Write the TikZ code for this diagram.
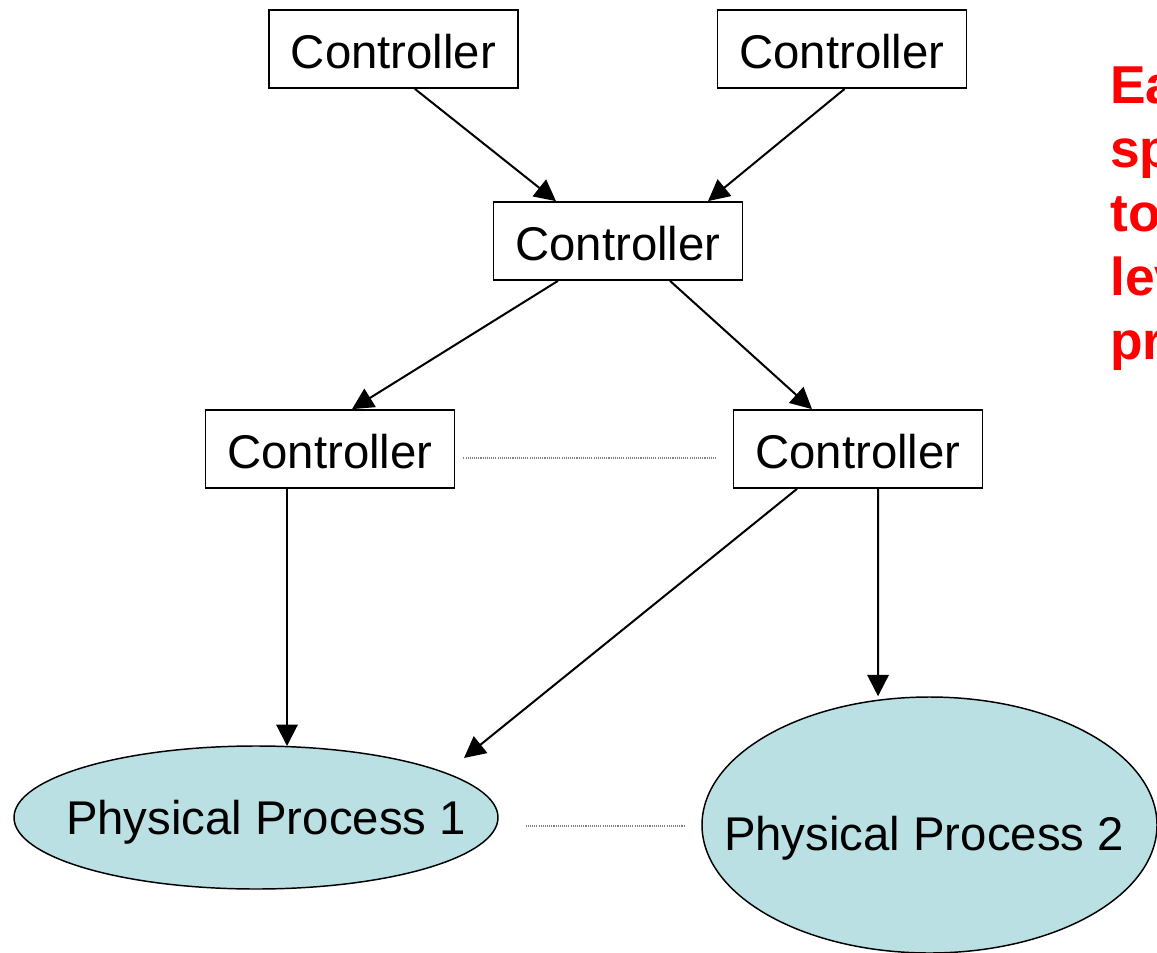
\documentclass[tikz,border=0pt]{standalone}
\usepackage{fontspec}
\setmainfont{Liberation Sans}
\usetikzlibrary{shapes.geometric,arrows.meta,calc}
\definecolor{procfill}{RGB}{186,224,228}
\definecolor{notered}{RGB}{255,0,0}
\begin{document}
\begin{tikzpicture}[x=0.75pt,y=-0.75pt,
  ctrl/.style={draw=black,line width=1.3pt,fill=white,minimum width=186.75pt,
    minimum height=58.5pt,inner sep=0pt,text height=29pt,text depth=0pt,
    font=\fontsize{35.5}{42}\selectfont},
  proc/.style={draw=black,line width=1.1pt,fill=procfill,ellipse,inner sep=0pt},
  lbl/.style={font=\fontsize{35.5}{42}\selectfont,inner sep=0pt},
  arr/.style={line width=1.5pt,-{Triangle[length=16pt,width=16pt]}},
  peer/.style={draw=gray,line width=0.8pt,dash pattern=on 0.8pt off 0.8pt},
  note/.style={anchor=base west,inner sep=0pt,text=notered,font=\fontsize{40}{48}\selectfont\bfseries}]
\clip (0,0) rectangle (1157,953);
\fill[white] (0,0) rectangle (1157,953);

% controller hierarchy
\node[ctrl] (c1) at (393.5,49) {Controller};
\node[ctrl] (c2) at (842,49) {Controller};
\node[ctrl] (c3) at (618,241) {Controller};
\node[ctrl] (c4) at (330,449) {Controller};
\node[ctrl] (c5) at (858,449) {Controller};

% physical processes
\node[proc,minimum width=363pt,minimum height=107.25pt] (e1) at (256,817.5) {};
\node[lbl] (e1t) at (266,822.5) {Physical Process 1};
\node[proc,minimum width=341.25pt,minimum height=192pt] (e2) at (929.5,825) {};
\node[lbl] (e2t) at (924,838.5) {Physical Process 2};

% command flow
\draw[arr] ([xshift=16pt]c1.south) -- ([xshift=-46.5pt]c3.north);
\draw[arr] ([xshift=2pt]c2.south) -- ([xshift=67.5pt]c3.north);
\draw[arr] ([xshift=-45pt]c3.south) -- ([xshift=16.5pt]c4.north);
\draw[arr] ([xshift=39pt]c3.south) -- ([xshift=-34.5pt]c5.north);
\draw[arr] ([xshift=-32.25pt]c4.south) -- ($(e1.center)+(31,-71.5)$);
\draw[arr] ([xshift=-45.75pt]c5.south) -- ($(e1.center)+(208,-59.5)$);
\draw[arr] ([xshift=15pt]c5.south) -- ([xshift=-38.6pt]e2.north);

% peer links
\draw[peer] ($(c4.east)+(8,9)$) -- ($(c5.west)+(-17,9)$);
\draw[peer] ($(e1.east)+(27,8.5)$) -- ($(e2.west)+(-16.5,1)$);

% side note, running off the right edge
\node[note] (n1) at (1110,103) {Ea};
\node[note] (n2) at (1110,167) {sp};
\node[note] (n3) at (1110,231) {to};
\node[note] (n4) at (1110,295) {lev};
\node[note] (n5) at (1110,359) {pr};
\end{tikzpicture}
\end{document}
